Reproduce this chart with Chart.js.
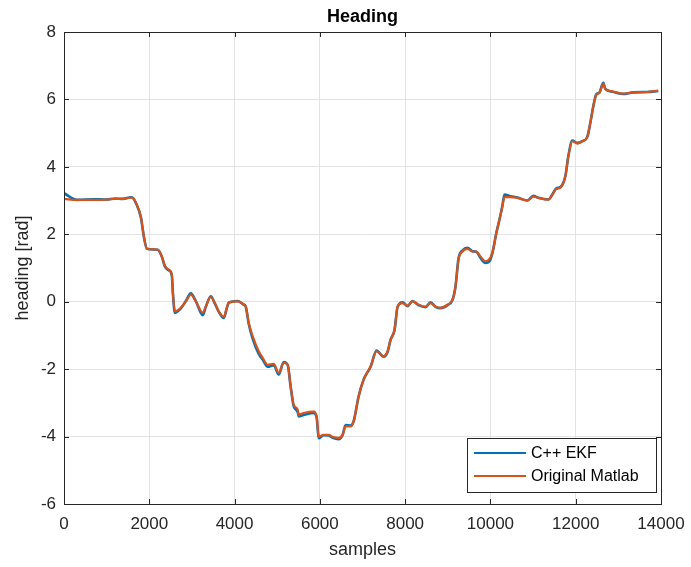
<!DOCTYPE html>
<html>
<head>
<meta charset="utf-8">
<title>Heading</title>
<script src="https://cdn.jsdelivr.net/npm/chart.js@4.4.1/dist/chart.umd.min.js"></script>
<style>
  html, body { margin: 0; padding: 0; background: #ffffff; }
  #wrap { width: 691px; height: 567px; }
</style>
</head>
<body>
<div id="wrap"><canvas id="c" width="691" height="567"></canvas></div>
<script>
// Sample indices at which the heading estimate is listed
const samples = [
  0, 300, 700, 1000, 1200, 1382, 1569, 1616, 1686, 1803, 1874, 1944, 2100, 2201,
  2295, 2365, 2459, 2529, 2553, 2600, 2740, 2857, 2974, 3091, 3255, 3326, 3443,
  3536, 3630, 3747, 3817, 3864, 4075, 4192, 4262, 4333, 4426, 4567, 4661, 4778,
  4918, 5035, 5152, 5246, 5316, 5387, 5480, 5504, 5621, 5855, 5925, 5972, 6089,
  6206, 6300, 6441, 6534, 6604, 6722, 6792, 6909, 7026, 7190, 7330, 7494, 7588,
  7658, 7752, 7822, 7939, 8056, 8174, 8314, 8478, 8595, 8712, 8829, 8993, 9110,
  9181, 9251, 9345, 9462, 9579, 9672, 9766, 9883, 9977, 10047, 10141, 10211,
  10281, 10328, 10469, 10633, 10867, 11007, 11125, 11359, 11452, 11546, 11640,
  11757, 11827, 11921, 12038, 12155, 12272, 12342, 12413, 12483, 12553, 12647,
  12694, 12858, 13115, 13349, 13677, 13935
];

// Heading [rad] from the C++ EKF port
const cppEkf = [
  3.22, 3.02, 3.04, 3.03, 3.06, 3.05, 3.10, 3.08, 2.93, 2.50, 1.92, 1.57, 1.55, 1.54,
  1.33, 1.05, 0.93, 0.78, 0.27, -0.33, -0.20, 0.02, 0.25, 0.02, -0.40, -0.15, 0.16,
  -0.05, -0.30, -0.48, -0.20, -0.03, 0.02, -0.07, -0.15, -0.66, -1.10,
  -1.55, -1.72, -1.93, -1.88, -2.16, -1.79, -1.88, -2.53, -3.10, -3.27, -3.40, -3.36,
  -3.30, -3.44, -4.05, -3.96, -3.97, -4.04, -4.08, -3.95, -3.66, -3.67, -3.55, -2.81,
  -2.31, -1.93, -1.45, -1.63, -1.49, -1.13, -0.83, -0.16, -0.02, -0.13, 0.02,
  -0.10, -0.16, -0.02, -0.15, -0.19, -0.10, 0.05, 0.45, 1.28, 1.52, 1.60, 1.50,
  1.48, 1.30, 1.15, 1.20, 1.45, 2.05, 2.43, 2.85, 3.18, 3.13, 3.09, 3.00, 3.14,
  3.08, 3.03, 3.18, 3.36, 3.40, 3.72, 4.32, 4.78, 4.71, 4.76, 4.89, 5.30, 5.80,
  6.15, 6.20, 6.49, 6.31, 6.23, 6.16, 6.21, 6.22, 6.25
];

// Heading [rad] from the original Matlab implementation
const matlabRef = [
  3.05, 3.02, 3.02, 3.03, 3.05, 3.05, 3.09, 3.08, 2.94, 2.52, 1.93, 1.57, 1.55, 1.54,
  1.34, 1.07, 0.95, 0.80, 0.27, -0.29, -0.18, 0.01, 0.21, 0.01, -0.33, -0.14, 0.14,
  -0.04, -0.29, -0.45, -0.18, -0.02, 0.01, -0.06, -0.14, -0.63, -1.03,
  -1.47, -1.67, -1.87, -1.84, -2.11, -1.81, -1.87, -2.51, -3.06, -3.20, -3.35, -3.30,
  -3.26, -3.40, -4.00, -3.95, -3.95, -4.01, -4.04, -3.95, -3.70, -3.70, -3.55, -2.81,
  -2.31, -1.92, -1.47, -1.62, -1.47, -1.13, -0.83, -0.14, -0.04, -0.12, 0.01,
  -0.09, -0.15, -0.04, -0.14, -0.18, -0.09, 0.06, 0.45, 1.25, 1.49, 1.57, 1.49,
  1.49, 1.34, 1.20, 1.27, 1.45, 2.05, 2.43, 2.83, 3.10, 3.10, 3.08, 3.00, 3.12,
  3.08, 3.03, 3.17, 3.35, 3.38, 3.72, 4.31, 4.76, 4.69, 4.76, 4.89, 5.30, 5.80,
  6.14, 6.19, 6.47, 6.31, 6.24, 6.17, 6.21, 6.22, 6.26
];

const xTicks = [0, 2000, 4000, 6000, 8000, 10000, 12000, 14000];
const yTicks = [-6, -4, -2, 0, 2, 4, 6, 8];

const seriesNames = ['C++ EKF', 'Original Matlab'];
const seriesColors = ['#0072BD', '#D95319'];

const FONT = '"Liberation Sans", Arial, Helvetica, sans-serif';
const AXIS_COLOR = '#262626';

function points(ys) {
  return samples.map((s, i) => ({ x: s, y: ys[i] }));
}

// Title, axis labels, inward tick marks, box and legend in the Matlab look
const matlabAxes = {
  id: 'matlabAxes',
  afterDraw(chart) {
    const ctx = chart.ctx;
    const a = chart.chartArea;
    const xs = chart.scales.x, ys = chart.scales.y;
    ctx.save();

    // box
    ctx.strokeStyle = AXIS_COLOR;
    ctx.lineWidth = 1;
    ctx.strokeRect(Math.round(a.left) + 0.5, Math.round(a.top) + 0.5,
                   Math.round(a.right - a.left), Math.round(a.bottom - a.top));

    // inward ticks on all four sides
    const tl = 5;
    ctx.beginPath();
    xTicks.forEach(v => {
      const px = Math.round(xs.getPixelForValue(v)) + 0.5;
      ctx.moveTo(px, a.bottom); ctx.lineTo(px, a.bottom - tl);
      ctx.moveTo(px, a.top); ctx.lineTo(px, a.top + tl);
    });
    yTicks.forEach(v => {
      const py = Math.round(ys.getPixelForValue(v)) + 0.5;
      ctx.moveTo(a.left, py); ctx.lineTo(a.left + tl, py);
      ctx.moveTo(a.right, py); ctx.lineTo(a.right - tl, py);
    });
    ctx.stroke();

    // title
    ctx.fillStyle = '#000000';
    ctx.font = 'bold 18px ' + FONT;
    ctx.textAlign = 'center';
    ctx.textBaseline = 'middle';
    ctx.fillText('Heading', (a.left + a.right) / 2, 17);

    // axis titles
    ctx.fillStyle = AXIS_COLOR;
    ctx.font = '18px ' + FONT;
    ctx.fillText('samples', (a.left + a.right) / 2, 550);
    ctx.save();
    ctx.translate(23, (a.top + a.bottom) / 2);
    ctx.rotate(-Math.PI / 2);
    ctx.fillText('heading [rad]', 0, 0);
    ctx.restore();

    // legend
    const lx = 467, ly = 438, lw = 189, lh = 54;
    ctx.fillStyle = '#ffffff';
    ctx.fillRect(lx, ly, lw, lh);
    ctx.strokeStyle = AXIS_COLOR;
    ctx.strokeRect(lx + 0.5, ly + 0.5, lw, lh);
    ctx.font = '16px ' + FONT;
    ctx.textAlign = 'left';
    seriesNames.forEach((name, i) => {
      const yy = ly + 15 + i * 23;
      ctx.strokeStyle = seriesColors[i];
      ctx.lineWidth = 2;
      ctx.beginPath();
      ctx.moveTo(474, yy); ctx.lineTo(526, yy);
      ctx.stroke();
      ctx.fillStyle = '#000000';
      ctx.fillText(name, 531, yy + 1);
    });
    ctx.restore();
  }
};

new Chart(document.getElementById('c'), {
  type: 'line',
  data: {
    datasets: [
      // the Matlab reference is drawn over the C++ EKF trace
      { label: seriesNames[0], data: points(cppEkf), borderColor: seriesColors[0], order: 1,
        borderWidth: 2.6, pointRadius: 0, cubicInterpolationMode: 'monotone', fill: false },
      { label: seriesNames[1], data: points(matlabRef), borderColor: seriesColors[1], order: 0,
        borderWidth: 2.2, pointRadius: 0, cubicInterpolationMode: 'monotone', fill: false }
    ]
  },
  options: {
    responsive: false,
    animation: false,
    events: [],
    layout: { padding: { top: 32, right: 30, left: 0, bottom: 0 } },
    plugins: { legend: { display: false }, title: { display: false }, tooltip: { enabled: false } },
    scales: {
      x: {
        type: 'linear', min: 0, max: 14000,
        afterBuildTicks: s => { s.ticks = xTicks.map(v => ({ value: v })); },
        afterFit: s => { s.height = 63; s.paddingLeft = 0; s.paddingRight = 0; },
        grid: { color: '#e3e3e3', drawTicks: false, lineWidth: 1 },
        border: { display: false },
        ticks: { color: AXIS_COLOR, font: { family: FONT, size: 17 }, padding: 10, maxRotation: 0,
                 callback: v => String(v) }
      },
      y: {
        type: 'linear', min: -6, max: 8,
        afterBuildTicks: s => { s.ticks = yTicks.map(v => ({ value: v })); },
        afterFit: s => { s.width = 64; s.paddingTop = 0; s.paddingBottom = 0; },
        grid: { color: '#e3e3e3', drawTicks: false, lineWidth: 1 },
        border: { display: false },
        ticks: { color: AXIS_COLOR, font: { family: FONT, size: 17 }, padding: 8,
                 callback: v => String(v) }
      }
    }
  },
  plugins: [matlabAxes]
});
</script>
</body>
</html>
